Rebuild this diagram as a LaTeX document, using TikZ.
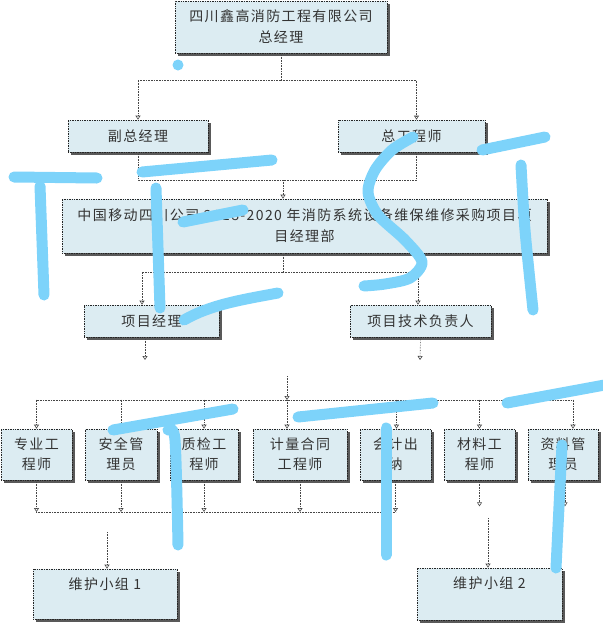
\documentclass[tikz,border=0pt]{standalone}
\usepackage{fontspec}
\setmainfont{Noto Sans CJK SC}[LetterSpace=10]
\usetikzlibrary{arrows.meta}
\usetikzlibrary{shadows}
\definecolor{boxfill}{RGB}{220,236,242}
\definecolor{textgray}{RGB}{51,51,51}
\definecolor{linegray}{RGB}{70,70,70}
\definecolor{inkblue}{RGB}{125,211,250}

\begin{document}
\begin{tikzpicture}[x=1pt,y=-1pt,
    box/.style={draw=black!85,densely dotted,line width=0.7pt,fill=boxfill,text=textgray,
      align=center,inner sep=2pt,font=\fontsize{14}{21}\selectfont,
      drop shadow={shadow xshift=3pt,shadow yshift=-3pt,fill=black!65,opacity=1}},
    link/.style={draw=linegray,densely dotted,line width=0.6pt},
    tip/.style={link,-{Triangle[open,length=4pt,width=5pt]}},
    ink/.style={draw=inkblue,line width=11pt,line cap=round,line join=round}]
    \useasboundingbox (0,0) rectangle (603,625);

    % top
    \node[box,minimum width=212,minimum height=52] (gm) at (281,27) {四川鑫高消防工程有限公司\\总经理};
    \node[box,minimum width=140,minimum height=32] (vgm) at (138,136) {副总经理};
    \node[box,minimum width=147,minimum height=32] (cte) at (411.5,136) {总工程师};

    % project department
    \node[box,minimum width=485,minimum height=54] (dept) at (304.5,226)
        {中国移动四川公司 2018-2020 年消防系统设备维保维修采购项目项\\目经理部};
    \node[box,minimum width=135,minimum height=32] (pm) at (151.5,321) {项目经理};
    \node[box,minimum width=141,minimum height=32] (tech) at (420.5,321) {项目技术负责人};

    % staff row
    \begin{scope}[every node/.append style={box,minimum height=51,font=\fontsize{14}{20}\selectfont}]
        \node[minimum width=71] (zy) at (36.5,454.5) {专业工\\程师};
        \node[minimum width=72] (aq) at (121,454.5) {安全管\\理员};
        \node[minimum width=68] (zj) at (204,454.5) {质检工\\程师};
        \node[minimum width=94] (jl) at (300,454.5) {计量合同\\工程师};
        \node[minimum width=71] (kj) at (395.5,454.5) {会计出\\纳};
        \node[minimum width=71] (cl) at (479.5,454.5) {材料工\\程师};
        \node[minimum width=70] (zl) at (563,454.5) {资料管\\理员};
    \end{scope}

    % teams
    \node[box,minimum width=144,text height=16pt,text depth=26pt,inner ysep=4pt] (team1) at (105,594) {维护小组 1};
    \node[box,minimum width=145,text height=16pt,text depth=28pt,inner ysep=4pt] (team2) at (489.5,594) {维护小组 2};

    % connectors
    \coordinate (j1) at (281,80);
    \draw[link] (gm) -- (j1);
    \draw[tip] (j1) -| (vgm);
    \draw[tip] (j1) -| ([xshift=5pt]cte.north);

    \coordinate (j2) at (283,180);
    \draw[link] (vgm) |- (j2);
    \draw[link] ([xshift=5pt]cte.south) |- (j2);
    \draw[tip] (j2) -- (j2 |- dept.north);

    \coordinate (j3) at (283,272);
    \draw[link] (j3 |- dept.south) -- (j3);
    \draw[tip] (j3) -| ([xshift=-9.5pt]pm.north);
    \draw[tip] (j3) -| ([xshift=-2.5pt]tech.north);

    \coordinate (p1) at (145,360);
    \coordinate (p2) at (420,360);
    \draw[tip] ([xshift=-6.5pt]pm.south) -- (p1);
    \draw[tip] (tech.south) -- (p2);

    \coordinate (j4) at (287,376);
    \coordinate (j5) at (287,400);
    \draw[tip] (j4) -- (j5);
    \draw[link] (j5 -| zy) -- (j5 -| zl) -- ++(10,0);
    \draw[tip] (j5) -- (j5 |- jl.north);
    \foreach \n/\d in {zy/0,aq/0,zj/0,kj/1,cl/0,zl/10}
        \draw[tip] ([xshift=\d pt]\n.north) ++(0,-29) -- ([xshift=\d pt]\n.north);

    \coordinate (j6) at (36,512);
    \coordinate (j7) at (396,512);
    \draw[link] (j6) -- (j7);
    \foreach \n in {zy,aq,zj,jl,kj}
        \draw[tip] (\n) -- (\n |- j6);
    \draw[tip] (cl.south) -- ++(0,26);
    \draw[tip] ([xshift=2pt]zl.south) -- ++(0,26);

    \coordinate (t1) at (107,532);
    \coordinate (t2) at (488,518);
    \draw[tip] (t1) -- (t1 |- team1.north);
    \draw[tip] (t2) -- (t2 |- team2.north);

    % blue scribble on top
    \fill[inkblue] (178,65) circle (5.5);
    \draw[ink] (14,177) -- (97,178);
    \draw[ink] (40,186) -- (44,295);
    \draw[ink] (142,172) -- (272,160);
    \draw[ink] (156,188) -- (160,308);
    \draw[ink] (184,320) .. controls (210,305) and (240,300) .. (278,293);
    \draw[ink] (183,222) -- (243,210);
    \draw[ink] plot[smooth] coordinates {(413,137) (392,150) (375,170) (368,192) (378,215) (405,240) (422,262) (410,278) (385,284) (364,286)};
    \draw[ink] (482,150) -- (545,137);
    \draw[ink] plot[smooth] coordinates {(521,165) (525,230) (533,310)};
    \draw[ink] (113,430) -- (233,409);
    \draw[ink] plot[smooth] coordinates {(168,430) (175,440) (178,545)};
    \draw[ink] (298,417) -- (433,403);
    \draw[ink] (386,428) -- (386,555);
    \draw[ink] (507,403) -- (610,384);
    \draw[ink] (562,445) -- (556,568);
\end{tikzpicture}
\end{document}
